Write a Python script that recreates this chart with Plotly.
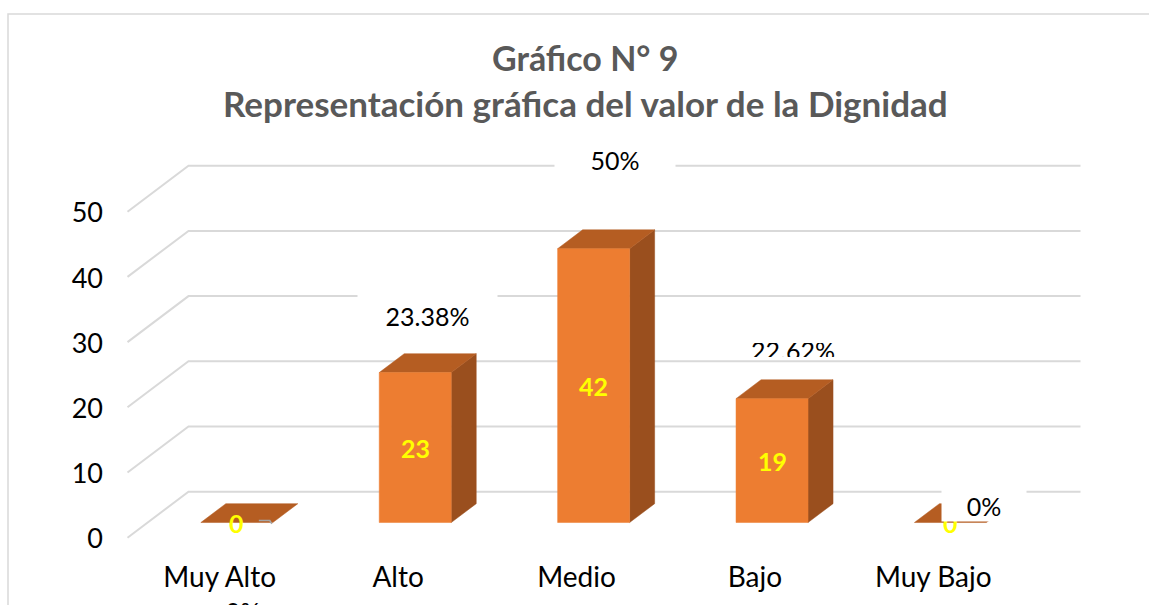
import plotly.graph_objects as go

# ---------------- data ----------------
categories = ["Muy Alto", "Alto", "Medio", "Bajo", "Muy Bajo"]
values = [0, 23, 42, 19, 0]
percent_labels = ["0%", "23.38%", "50%", "22.62%", "0%"]
y_ticks = [0, 10, 20, 30, 40, 50]
title_line1 = "Gráfico N° 9"
title_line2 = "Representación gráfica del valor de la Dignidad"

# ---------------- layout / projection constants ----------------
W, H = 1149, 605
PX_CAT = 178.4            # pixels per category on the front plane
PX_UNIT = 6.52            # pixels per value unit
X0_PX, Y0_PX = 127.5, 537.7   # pixel of front-plane origin
DX = 61 / PX_CAT          # depth offset of back wall (x units)
DY = 46 / PX_UNIT         # depth offset of back wall (value units)
F0, F1 = 0.33, 0.74       # bar depth (front / back) as fraction
BAR_W = 72 / PX_CAT
N = len(categories)

x_range = [-X0_PX / PX_CAT, (W - X0_PX) / PX_CAT]
y_range = [(Y0_PX - H) / PX_UNIT, Y0_PX / PX_UNIT]

TEXT_DY = -4 / PX_UNIT    # small correction for text vertical centring

# label placement (x in category units, y in value units, box size in px)
pct_pos_x = [0.647, 1.679, 2.732, 3.73, 4.80]
pct_pos_y = [-10.0, 34.0, 57.9, 28.8, 5.0]
pct_yshift = [-8, 0, 0, 0, 0]
pct_box_w = [60, 139, 120, 110, 84]
pct_box_h = [30, 44, 34, 14, 32]
pct_valign = ["middle", "middle", "middle", "middle", "bottom"]

FONT = "Lato"
GRID = "#d9d9d9"
FRONT = "#ED7D31"
TOP = "#B55D22"
SIDE = "#9A4F1E"

fig = go.Figure()

# ---------------- gridlines (side wall + back wall) ----------------
gx, gy = [], []
for t in y_ticks:
    gx += [0, DX, N + DX, None]
    gy += [t, t + DY, t + DY, None]
fig.add_trace(go.Scatter(x=gx, y=gy, mode="lines", line=dict(color=GRID, width=2),
                         hoverinfo="skip", showlegend=False))

# ---------------- 3D bars ----------------
fx, fy, tx, ty, sx, sy = [], [], [], [], [], []
for i, v in enumerate(values):
    c = i + 0.5
    xl = c - BAR_W / 2 + F0 * DX
    xr = c + BAR_W / 2 + F0 * DX
    yb = F0 * DY
    yt = v + F0 * DY
    ddx = (F1 - F0) * DX
    ddy = (F1 - F0) * DY
    if v > 0:
        # front face
        fx += [xl, xr, xr, xl, xl, None]
        fy += [yb, yb, yt, yt, yb, None]
        # right side face
        sx += [xr, xr + ddx, xr + ddx, xr, xr, None]
        sy += [yb, yb + ddy, yt + ddy, yt, yb, None]
    # top face
    tx += [xl, xr, xr + ddx, xl + ddx, xl, None]
    ty += [yt, yt, yt + ddy, yt + ddy, yt, None]

for xs, ys, col in [(sx, sy, SIDE), (tx, ty, TOP), (fx, fy, FRONT)]:
    fig.add_trace(go.Scatter(x=xs, y=ys, mode="lines", fill="toself", fillcolor=col,
                             line=dict(color=col, width=0.5), hoverinfo="skip",
                             showlegend=False))

# small leader line of the first percentage label
lc = 0.5 + F0 * DX
fig.add_trace(go.Scatter(x=[lc + 22 / PX_CAT, lc + 33 / PX_CAT, lc + 35 / PX_CAT],
                         y=[F0 * DY + 0.3, F0 * DY + 0.3, F0 * DY - 0.2], mode="lines",
                         line=dict(color="#A6A6A6", width=1.5), hoverinfo="skip",
                         showlegend=False))

# ---------------- axis tick labels ----------------
fig.add_trace(go.Scatter(x=[(103 - X0_PX) / PX_CAT] * len(y_ticks),
                         y=[t + TEXT_DY for t in y_ticks], mode="text",
                         text=[str(t) for t in y_ticks], textposition="middle left",
                         textfont=dict(family=FONT, size=27, color="#000000"),
                         hoverinfo="skip", showlegend=False))

# ---------------- category labels ----------------
fig.add_trace(go.Scatter(x=[i + 0.5 + 3 / PX_CAT for i in range(N)], y=[-5.9 + TEXT_DY] * N,
                         mode="text", text=categories, textposition="middle center",
                         textfont=dict(family=FONT, size=28, color="#000000"),
                         hoverinfo="skip", showlegend=False))

# ---------------- value labels (yellow) ----------------
annotations = []
for i, v in enumerate(values):
    annotations.append(dict(x=i + 0.5 + F0 * DX, y=F0 * DY + v / 2, xref="x", yref="y",
                            text=f"<b>{v}</b>", showarrow=False,
                            font=dict(family=FONT, size=25, color="#FFFF00")))

# ---------------- percentage labels (white boxes) ----------------
for i, p in enumerate(percent_labels):
    annotations.append(dict(x=pct_pos_x[i], y=pct_pos_y[i], xref="x", yref="y",
                            yshift=pct_yshift[i], text=p, showarrow=False,
                            bgcolor="#FFFFFF", width=pct_box_w[i], height=pct_box_h[i],
                            valign=pct_valign[i], borderpad=0,
                            font=dict(family=FONT, size=25, color="#000000")))

# ---------------- title ----------------
annotations.append(dict(x=585 / W, y=1 - 58 / H, xref="paper", yref="paper",
                        xanchor="center", yanchor="middle",
                        text=f"<b>{title_line1}</b>", showarrow=False,
                        font=dict(family=FONT, size=34, color="#595959")))
annotations.append(dict(x=585 / W, y=1 - 103 / H, xref="paper", yref="paper",
                        xanchor="center", yanchor="middle",
                        text=f"<b>{title_line2}</b>", showarrow=False,
                        font=dict(family=FONT, size=35, color="#595959")))

fig.update_layout(
    width=W, height=H, autosize=False,
    margin=dict(l=0, r=0, t=0, b=0),
    paper_bgcolor="#FFFFFF", plot_bgcolor="#FFFFFF",
    xaxis=dict(range=x_range, visible=False, fixedrange=True),
    yaxis=dict(range=y_range, visible=False, fixedrange=True),
    annotations=annotations,
    shapes=[dict(type="rect", xref="paper", yref="paper", x0=8 / W, x1=1.02,
                 y0=-0.02, y1=1 - 14 / H, line=dict(color=GRID, width=1.5),
                 fillcolor="rgba(0,0,0,0)", layer="below")],
)

fig.write_html("out.html", config={"displayModeBar": False},
               post_script="document.body.style.margin='0';document.body.style.overflow='hidden';")
